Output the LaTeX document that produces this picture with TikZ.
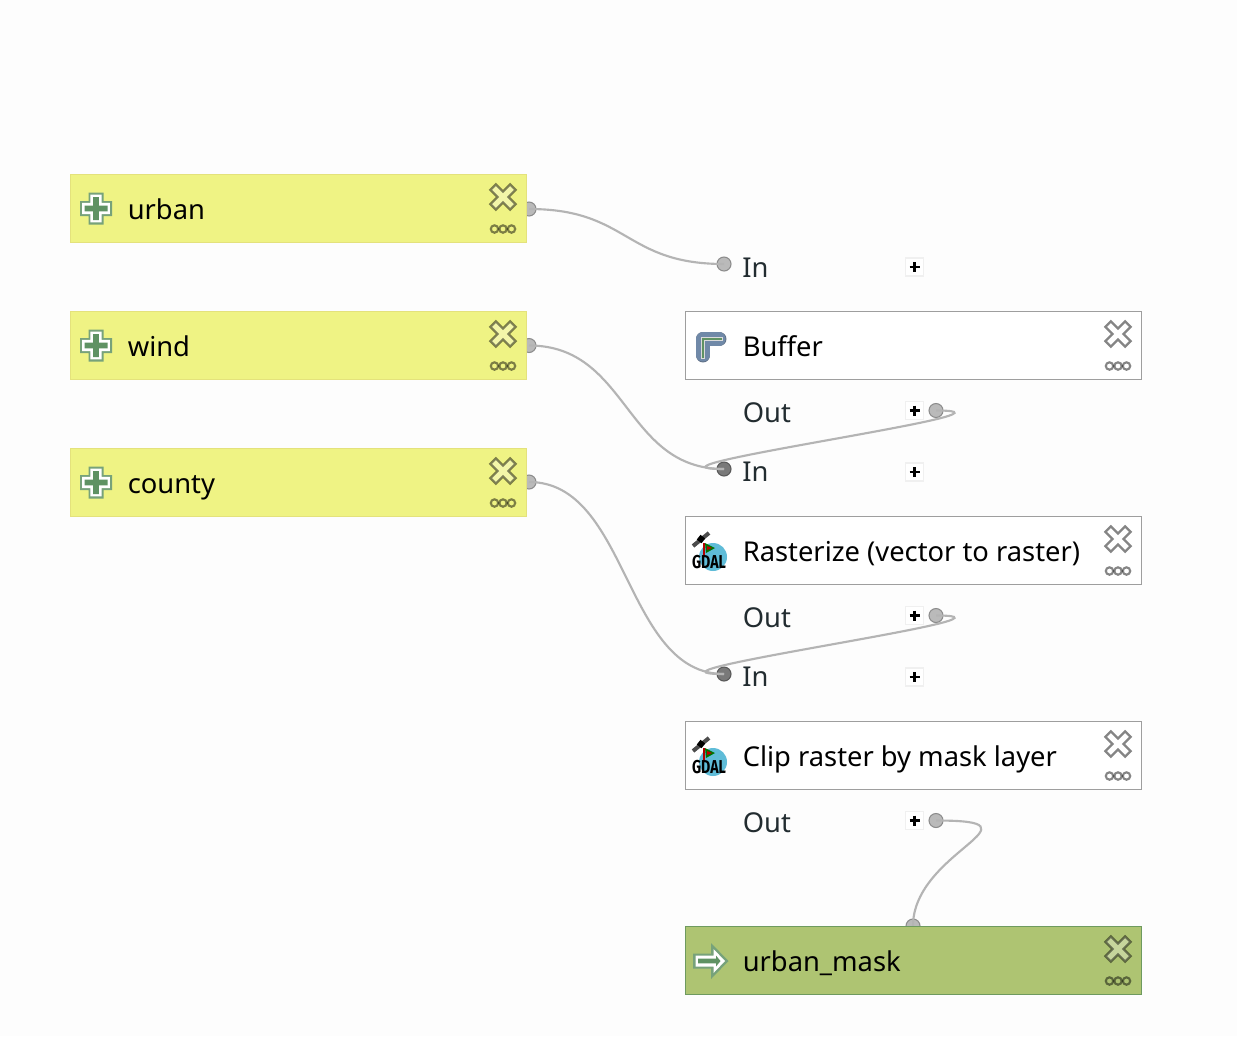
\documentclass[tikz,border=0pt]{standalone}
\usepackage{fontspec}
\setmainfont{Noto Sans}
\newfontfamily\gdalfont{Fira Sans}[FakeStretch=0.76]
\usetikzlibrary{calc}
\definecolor{bg}{HTML}{FDFDFD}
\definecolor{yellowbox}{HTML}{EFF384}
\definecolor{yellowedge}{HTML}{E4E27C}
\definecolor{greenbox}{HTML}{AEC472}
\definecolor{greenedge}{HTML}{6E9A5F}
\definecolor{iconG}{HTML}{5F9263}
\definecolor{wire}{HTML}{B4B4B4}
\definecolor{labelc}{HTML}{222C30}
\definecolor{steel}{HTML}{7089A8}
\definecolor{steeldark}{HTML}{5F6F85}
\definecolor{globe}{HTML}{5FBCD8}
\tikzset{
  box/.style={minimum width=342pt,minimum height=51pt,inner sep=0pt,line width=0.75pt},
  inputbox/.style={box,draw=yellowedge,fill=yellowbox},
  algbox/.style={box,draw=black!38,fill=white},
  outbox/.style={box,draw=greenedge,fill=greenbox},
  title/.style={anchor=base west,inner sep=0pt,font=\fontsize{20.5}{24}\selectfont,text=black},
  portlabel/.style={anchor=base west,inner sep=0pt,font=\fontsize{20.5}{24}\selectfont,text=labelc},
  portlight/.style={circle,inner sep=0pt,minimum size=10.5pt,fill=black!38,draw=black!45,line width=0.8pt,fill opacity=.7},
  portdark/.style={circle,inner sep=0pt,minimum size=10.5pt,fill=black!58,draw=black!65,line width=0.8pt,fill opacity=.9},
  wireline/.style={draw=wire,line width=1.6pt},
  addbtn/.style={draw=black!6,fill=white,inner sep=0pt,minimum size=13.5pt,line width=.8pt},
  plusicon/.pic={
    \fill[iconG!85] (-7.5,-16)--(7.5,-16)--(7.5,-7.5)--(16,-7.5)--(16,7.5)--(7.5,7.5)--(7.5,16)--(-7.5,16)--(-7.5,7.5)--(-16,7.5)--(-16,-7.5)--(-7.5,-7.5)--cycle;
    \fill[white] (-5.6,-13.8)--(5.6,-13.8)--(5.6,-5.6)--(13.8,-5.6)--(13.8,5.6)--(5.6,5.6)--(5.6,13.8)--(-5.6,13.8)--(-5.6,5.6)--(-13.8,5.6)--(-13.8,-5.6)--(-5.6,-5.6)--cycle;
    \fill[iconG] (-2.8,-11.5)--(2.8,-11.5)--(2.8,-2.8)--(11.5,-2.8)--(11.5,2.8)--(2.8,2.8)--(2.8,11.5)--(-2.8,11.5)--(-2.8,2.8)--(-11.5,2.8)--(-11.5,-2.8)--(-2.8,-2.8)--cycle;
  },
  xicon/.pic={
    \begin{scope}[rotate=45]
      \filldraw[draw=black,draw opacity=.48,fill=white,fill opacity=.3,line width=1.7pt,line join=miter]
        (-3.9,-14)--(3.9,-14)--(3.9,-3.9)--(14,-3.9)--(14,3.9)--(3.9,3.9)--(3.9,14)--(-3.9,14)--(-3.9,3.9)--(-14,3.9)--(-14,-3.9)--(-3.9,-3.9)--cycle;
    \end{scope}
    \foreach \dx in {-8.5,0,8.5} \draw[black,draw opacity=.48,line width=1.6pt] (\dx,32) circle[radius=3.7];
  },
  buffericon/.pic={
    \draw[draw=steeldark,line width=11.2pt,line cap=round,line join=round] (8,24)--(8,8)--(24,8);
    \draw[draw=steel,line width=9.8pt,line cap=round,line join=round] (8,24)--(8,8)--(24,8);
    \draw[draw=white!72!gray,line width=3.6pt,line join=miter] (8,28)--(8,8)--(28,8);
    \draw[draw=iconG,line width=1.8pt,line join=miter] (8,27)--(8,8)--(27,8);
  },
  gdalicon/.pic={
    \fill[globe] (4,4) circle[radius=14];
    \draw[black!70,line width=3pt] (-16,-7)--(0,-20);
    \fill[black,rotate around={-39:(-8,-14)}] (-11,-17) rectangle (-5,-11);
    \draw[red!70!black,line width=1pt] (-5,-10)--(-5,4);
    \fill[green!45!black] (-4,-10)--(6,-5)--(-3,0)--cycle;
    \fill[red!75!black] (-2,-7)--(3,-5)--(-2,-3)--cycle;
    \node[inner sep=0pt,anchor=base,font=\gdalfont\bfseries\fontsize{14}{15}\selectfont,text=black] at (0,15) {GDAL};
  },
  arrowicon/.pic={
    \fill[iconG!85] (-17,-7.5)--(1,-7.5)--(1,-18)--(18.5,0)--(1,18)--(1,7.5)--(-17,7.5)--cycle;
    \fill[white] (-14.5,-5.5)--(3.5,-5.5)--(3.5,-12)--(15,0)--(3.5,12)--(3.5,5.5)--(-14.5,5.5)--cycle;
    \fill[iconG] (-12,-2.4)--(6,-2.4)--(6,-5.5)--(10.5,0)--(6,5.5)--(6,2.4)--(-12,2.4)--cycle;
  },
  plusbtn/.pic={
    \draw[black,line width=1.6pt] (-5,0)--(5,0) (0,-5)--(0,5);
  }
}
\begin{document}
\begin{tikzpicture}[x=0.75pt,y=-0.75pt]
\path[use as bounding box,fill=bg] (0,0) rectangle (1237,1036);

% ports (under the boxes)
\node[portlight] (urbanOut) at (529,209) {};
\node[portlight] (windOut) at (529,345.5) {};
\node[portlight] (countyOut) at (529,482) {};
\node[portlight] (bufIn) at (724,264) {};
\node[portlight] (bufOut) at (936,410.5) {};
\node[portdark] (rasIn) at (724,469) {};
\node[portlight] (rasOut) at (936,615.5) {};
\node[portdark] (clipIn) at (724,674) {};
\node[portlight] (clipOut) at (936,820.5) {};
\node[portlight] (maskIn) at (913,926) {};

% connectors
\draw[wireline] (urbanOut.center) .. controls +(100,0) and +(-100,0) .. (bufIn.center);
\draw[wireline] (windOut.center) .. controls +(100,0) and +(-100,0) .. (rasIn.center);
\draw[wireline] (countyOut.center) .. controls +(100,0) and +(-100,0) .. (clipIn.center);
\draw[wireline] (bufOut.center) .. controls +(112,0) and +(-112,0) .. (rasIn.center);
\draw[wireline] (rasOut.center) .. controls +(112,0) and +(-112,0) .. (clipIn.center);
\draw[wireline] (clipOut.center) .. controls +(114,0) and +(0,-75) .. (maskIn.center);

% boxes
\node[inputbox] (urban) at (298.5,208.5) {};
\node[inputbox] (wind) at (298.5,345.5) {};
\node[inputbox] (county) at (298.5,482.5) {};
\node[algbox] (buffer) at (913.5,345.5) {};
\node[algbox] (rasterize) at (913.5,550.5) {};
\node[algbox] (clip) at (913.5,755.5) {};
\node[outbox] (mask) at (913.5,960.5) {};

% titles
\node[title] (urbanT) at (127.5,219) {urban};
\node[title] (windT) at (127.5,356) {wind};
\node[title] (countyT) at (127.5,493) {county};
\node[title] (bufferT) at (742.5,356) {Buffer};
\node[title] (rasterT) at (742.5,561) {Rasterize (vector to raster)};
\node[title] (clipT) at (742.5,766) {Clip raster by mask layer};
\node[title] (maskT) at (742.5,971) {urban\_mask};

% port labels
\node[portlabel] (l1) at (742,277) {In};
\node[portlabel] (l2) at (742.5,422) {Out};
\node[portlabel] (l3) at (742,481) {In};
\node[portlabel] (l4) at (742.5,627) {Out};
\node[portlabel] (l5) at (742,686) {In};
\node[portlabel] (l6) at (742.5,832) {Out};

% add buttons
\foreach \nm/\px/\py in {b1/914.5/267,b2/914.5/410.5,b3/914.5/472,b4/914.5/615.5,b5/914.5/677,b6/914.5/820.5}{
  \node[addbtn] (\nm) at (\px,\py) {};
  \pic at (\nm.center) {plusbtn};
}

% icons
\pic at (96,208.5) {plusicon};
\pic at (96,345.5) {plusicon};
\pic at (96,482.5) {plusicon};
\pic at (695,331) {buffericon};
\pic at (709,553) {gdalicon};
\pic at (709,758) {gdalicon};
\pic at (710,961) {arrowicon};
\foreach \cx/\cy in {503/197,503/334,503/471,1118/334,1118/539,1118/744,1118/949}
  \pic at (\cx,\cy) {xicon};
\end{tikzpicture}
\end{document}
